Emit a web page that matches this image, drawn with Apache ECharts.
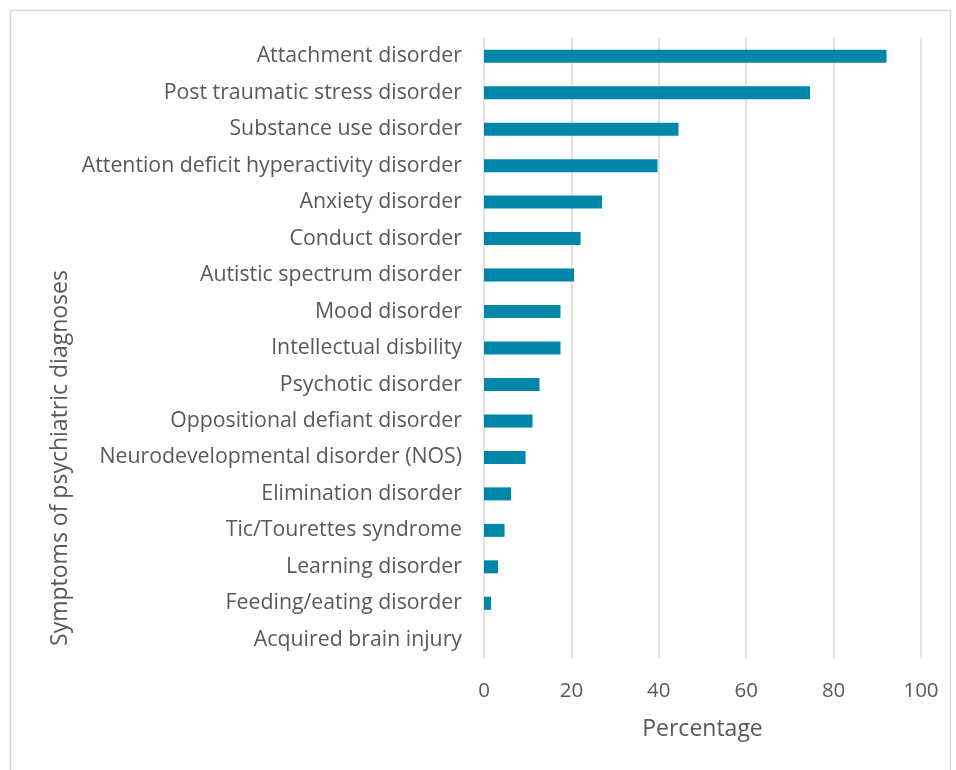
<!DOCTYPE html>
<html>
<head>
<meta charset="utf-8">
<script src="https://cdn.jsdelivr.net/npm/echarts@6/dist/echarts.min.js"></script>
<style>html,body{margin:0;padding:0;background:#fff}#c{width:956px;height:770px}</style>
</head>
<body>
<div id="c"></div>
<script>
const categories = [
  "Acquired brain injury",
  "Feeding/eating disorder",
  "Learning disorder",
  "Tic/Tourettes syndrome",
  "Elimination disorder",
  "Neurodevelopmental disorder (NOS)",
  "Oppositional defiant disorder",
  "Psychotic disorder",
  "Intellectual disbility",
  "Mood disorder",
  "Autistic spectrum disorder",
  "Conduct disorder",
  "Anxiety disorder",
  "Attention deficit hyperactivity disorder",
  "Substance use disorder",
  "Post traumatic stress disorder",
  "Attachment disorder"
];
const percentages = [0, 1.6, 3.2, 4.7, 6.2, 9.5, 11.1, 12.7, 17.5, 17.5, 20.6, 22.1, 27.0, 39.7, 44.5, 74.6, 92.1];
const xTicks = [0, 20, 40, 60, 80, 100];
const yAxisTitle = "Symptoms of psychiatric diagnoses";
const xAxisTitle = "Percentage";

const FONT = "'Open Sans', 'Noto Sans', sans-serif";
const chart = echarts.init(document.getElementById('c'), null, {renderer: 'canvas'});
chart.setOption({
  animation: false,
  backgroundColor: '#fff',
  graphic: [{
    type: 'rect', left: 8, top: 8,
    shape: {width: 940, height: 780},
    style: {fill: 'none', stroke: '#d9d9d9', lineWidth: 1.5}
  }, {
    type: 'text', x: 60, y: 458, rotation: Math.PI / 2,
    style: {text: yAxisTitle, fill: '#595959', font: "23px " + FONT, textAlign: 'center', textVerticalAlign: 'middle'}
  }],
  grid: {left: 484, right: 35, top: 38, bottom: 112, containLabel: false},
  xAxis: {
    type: 'value', min: xTicks[0], max: xTicks[xTicks.length - 1], interval: 20,
    name: xAxisTitle, nameLocation: 'middle', nameGap: 60,
    nameTextStyle: {color: '#595959', fontSize: 23, fontFamily: FONT},
    axisLine: {show: false}, axisTick: {show: false},
    axisLabel: {color: '#595959', fontSize: 20.5, fontFamily: FONT, margin: 23},
    splitLine: {show: true, lineStyle: {color: '#d9d9d9', width: 1.5}}
  },
  yAxis: {
    type: 'category', data: categories,
    axisLine: {show: false}, axisTick: {show: false},
    axisLabel: {color: '#595959', fontSize: 21.3, fontFamily: FONT, margin: 22}
  },
  series: [{
    type: 'bar', data: percentages, barWidth: 13,
    itemStyle: {color: '#0086a8'}
  }]
});
</script>
</body>
</html>
